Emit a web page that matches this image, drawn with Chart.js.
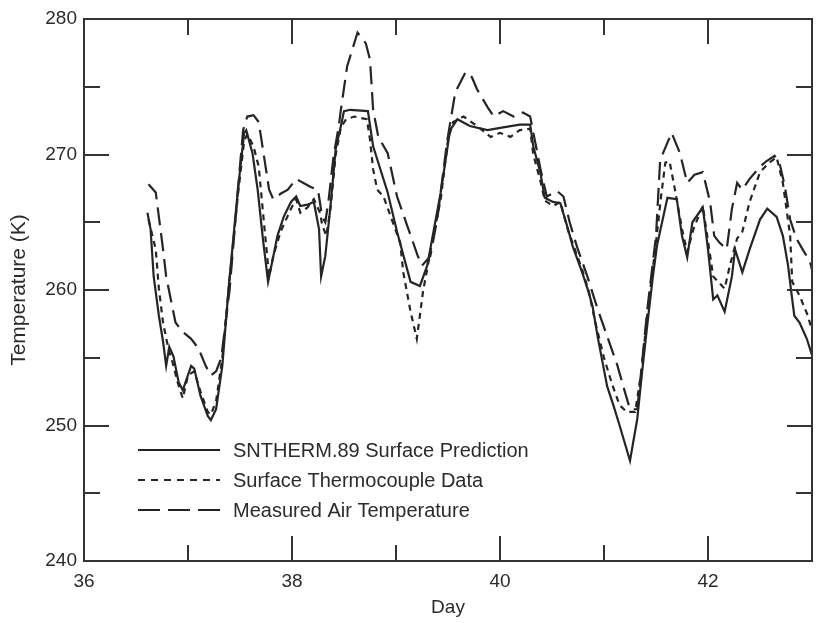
<!DOCTYPE html>
<html>
<head>
<meta charset="utf-8">
<script src="https://cdn.jsdelivr.net/npm/chart.js@4.4.1/dist/chart.umd.min.js"></script>
<style>
  html, body { margin: 0; padding: 0; background: #ffffff; }
  canvas { display: block; }
</style>
</head>
<body>
<canvas id="c" width="818" height="623"></canvas>
<script>
// ---- Tick values ----
const dayTicks = [36, 38, 40, 42];
const dayMinorTicks = [37, 39, 41];
const tempTicks = [240, 250, 260, 270, 280];
const tempMinorTicks = [245, 255, 265, 275];

// ---- Series labels ----
const seriesLabels = [
  'SNTHERM.89 Surface Prediction',
  'Surface Thermocouple Data',
  'Measured Air Temperature'
];

// ---- SNTHERM.89 surface prediction ----
const snthermDay = [36.61,36.64,36.67,36.72,36.76,36.79,36.82,36.86,36.91,36.95,37.03,37.06,37.12,37.19,37.22,37.27,37.33,37.39,37.48,37.54,37.56,37.62,37.67,37.72,37.77,37.81,37.86,37.92,37.99,38.04,38.08,38.15,38.21,38.26,38.28,38.32,38.37,38.42,38.47,38.50,38.56,38.73,38.78,38.92,39.01,39.14,39.23,39.30,39.43,39.52,39.59,39.71,39.88,40.03,40.19,40.29,40.32,40.39,40.43,40.51,40.58,40.65,40.70,40.79,40.85,40.89,40.94,41.03,41.09,41.15,41.25,41.32,41.36,41.41,41.47,41.51,41.57,41.61,41.70,41.75,41.80,41.85,41.95,42.00,42.05,42.09,42.16,42.23,42.26,42.31,42.33,42.40,42.50,42.57,42.66,42.72,42.77,42.80,42.83,42.88,42.95,43.00];
const snthermK   = [265.7,264.5,261.0,258.1,256.2,254.4,255.8,255.1,253.2,252.6,254.4,254.2,252.2,250.7,250.4,251.2,254.4,260.1,267.4,271.6,271.8,270.1,267.4,263.8,260.6,262.1,264.0,265.4,266.5,266.9,266.2,266.3,266.5,264.5,261.0,262.5,266.2,270.4,272.1,273.2,273.3,273.2,270.6,267.2,264.3,260.6,260.3,261.8,267.2,271.8,272.6,272.1,271.8,272.0,272.2,272.2,270.6,268.6,266.8,266.5,266.4,264.6,263.2,261.3,259.9,258.8,256.5,252.9,251.5,250.0,247.4,250.5,253.5,257.0,261.0,263.3,265.4,266.8,266.7,264.0,262.4,265.0,266.1,263.0,259.3,259.6,258.4,261.0,263.0,261.8,261.3,263.0,265.2,266.0,265.4,264.0,261.8,259.9,258.1,257.6,256.4,255.2];

// ---- Surface thermocouple data ----
const thermoDay = [36.62,36.69,36.72,36.76,36.81,36.85,36.90,36.95,37.00,37.06,37.12,37.19,37.22,37.27,37.33,37.39,37.48,37.54,37.57,37.63,37.68,37.73,37.78,37.82,37.89,37.99,38.04,38.08,38.15,38.21,38.27,38.29,38.33,38.37,38.42,38.47,38.52,38.60,38.72,38.75,38.78,38.82,38.88,38.95,39.04,39.07,39.14,39.20,39.26,39.33,39.43,39.50,39.55,39.65,39.78,39.91,40.00,40.10,40.19,40.29,40.32,40.39,40.43,40.51,40.58,40.65,40.72,40.79,40.85,40.92,41.00,41.08,41.15,41.22,41.30,41.36,41.42,41.50,41.55,41.59,41.63,41.68,41.75,41.80,41.86,41.95,42.05,42.16,42.21,42.28,42.33,42.40,42.50,42.59,42.66,42.72,42.79,42.81,42.88,42.96,43.00];
const thermoK   = [265.2,263.0,260.1,257.6,255.7,254.7,253.2,252.0,253.7,254.0,252.5,251.0,250.8,251.8,255.0,260.0,267.0,271.0,271.5,270.6,269.1,265.0,261.0,262.5,264.3,266.0,266.7,265.7,266.1,266.7,265.7,264.8,264.0,266.0,270.0,272.0,272.6,272.8,272.6,271.1,268.9,267.4,266.9,265.4,263.5,261.3,258.4,256.4,259.9,262.8,266.7,271.1,272.4,272.8,272.1,271.3,271.6,271.3,271.8,271.9,270.0,268.0,266.6,266.2,266.5,264.5,263.0,261.5,260.0,257.5,255.0,253.0,251.5,251.0,251.0,254.0,258.5,263.5,267.0,269.4,269.5,267.5,264.5,262.8,264.5,266.2,261.0,260.1,261.8,263.8,264.3,266.5,268.7,269.4,269.8,267.9,264.0,260.6,259.6,258.1,257.0];

// ---- Measured air temperature ----
const airDay = [36.62,36.69,36.72,36.76,36.79,36.84,36.88,36.95,37.03,37.10,37.17,37.22,37.27,37.32,37.40,37.48,37.53,37.57,37.63,37.68,37.73,37.78,37.82,37.89,37.96,38.04,38.11,38.18,38.25,38.29,38.32,38.35,38.40,38.45,38.47,38.53,38.63,38.71,38.75,38.78,38.83,38.92,39.01,39.11,39.21,39.25,39.33,39.40,39.49,39.57,39.67,39.73,39.78,39.88,39.94,40.03,40.13,40.22,40.29,40.39,40.45,40.55,40.61,40.67,40.74,40.84,40.93,41.03,41.13,41.20,41.25,41.32,41.36,41.42,41.50,41.54,41.65,41.73,41.80,41.87,41.95,42.02,42.06,42.11,42.18,42.23,42.28,42.33,42.40,42.50,42.56,42.64,42.69,42.74,42.79,42.85,42.91,42.98,43.00];
const airK   = [267.8,267.2,265.4,263.0,261.0,259.1,257.6,256.9,256.4,255.7,254.4,253.7,254.0,255.0,260.0,267.4,271.8,272.8,272.9,272.4,269.9,267.4,266.7,267.1,267.4,268.2,267.9,267.6,267.4,265.4,265.0,266.5,269.9,272.1,273.3,276.5,279.0,278.2,277.0,273.3,271.3,270.1,266.9,264.7,262.5,261.8,262.5,265.4,270.9,274.6,276.1,275.7,274.8,273.5,272.8,273.2,272.8,273.1,272.8,268.9,266.9,267.3,266.9,265.0,263.2,261.0,258.8,256.6,254.4,252.5,251.2,251.2,254.2,258.8,264.0,269.6,271.6,270.1,267.9,268.5,268.7,266.5,264.0,263.5,263.0,266.0,267.9,267.4,268.2,269.1,269.5,269.9,269.3,267.6,265.2,263.8,263.0,262.1,261.5];

const toPoints = (xs, ys) => xs.map((x, i) => ({ x: x, y: ys[i] }));

const FONT = '"Liberation Sans", Arial, Helvetica, sans-serif';
const INK = '#2b2b2b';
const LINE = '#252525';

const frameTicksPlugin = {
  id: 'frameTicks',
  afterDatasetsDraw(chart) {
    const { ctx, chartArea: a } = chart;
    const xs = chart.scales.x, ys = chart.scales.y;
    const MAJ = 25, MIN = 16;
    ctx.save();
    ctx.strokeStyle = '#333';
    ctx.lineWidth = 2;
    ctx.beginPath();
    const vt = (v, len) => {
      const px = Math.round(xs.getPixelForValue(v));
      ctx.moveTo(px, a.bottom); ctx.lineTo(px, a.bottom - len);
      ctx.moveTo(px, a.top); ctx.lineTo(px, a.top + len);
    };
    const ht = (v, len) => {
      const py = Math.round(ys.getPixelForValue(v));
      ctx.moveTo(a.left, py); ctx.lineTo(a.left + len, py);
      ctx.moveTo(a.right, py); ctx.lineTo(a.right - len, py);
    };
    dayTicks.forEach(v => { if (v > 36) vt(v, MAJ); });
    dayMinorTicks.forEach(v => vt(v, MIN));
    tempTicks.forEach(v => { if (v > 240 && v < 280) ht(v, MAJ); });
    tempMinorTicks.forEach(v => ht(v, MIN));
    ctx.stroke();
    ctx.strokeRect(a.left, a.top, a.right - a.left, a.bottom - a.top);
    ctx.restore();
  }
};

const innerLegendPlugin = {
  id: 'innerLegend',
  afterDatasetsDraw(chart) {
    const { ctx, chartArea: a } = chart;
    const x0 = a.left + 54, x1 = a.left + 136, tx = a.left + 149;
    const rows = [a.bottom - 111, a.bottom - 81, a.bottom - 51];
    ctx.save();
    chart.data.datasets.forEach((ds, i) => {
      const yy = rows[i];
      ctx.beginPath();
      ctx.strokeStyle = ds.borderColor;
      ctx.lineWidth = ds.borderWidth;
      ctx.setLineDash(ds.legendDash || []);
      ctx.moveTo(x0, yy); ctx.lineTo(x1, yy);
      ctx.stroke();
      ctx.setLineDash([]);
      ctx.fillStyle = INK;
      ctx.font = '20px ' + FONT;
      ctx.textBaseline = 'middle';
      ctx.textAlign = 'left';
      ctx.fillText(ds.label, tx, yy + 1);
    });
    ctx.restore();
  }
};

new Chart(document.getElementById('c'), {
  type: 'line',
  data: {
    datasets: [
      { label: seriesLabels[0], data: toPoints(snthermDay, snthermK), borderColor: LINE, borderWidth: 2.2, borderDash: [], legendDash: [], pointRadius: 0, tension: 0, fill: false },
      { label: seriesLabels[1], data: toPoints(thermoDay, thermoK), borderColor: LINE, borderWidth: 2.2, borderDash: [6, 5], legendDash: [7, 6], pointRadius: 0, tension: 0, fill: false },
      { label: seriesLabels[2], data: toPoints(airDay, airK), borderColor: LINE, borderWidth: 2.2, borderDash: [18, 8], legendDash: [22, 8], pointRadius: 0, tension: 0, fill: false }
    ]
  },
  options: {
    responsive: false,
    animation: false,
    devicePixelRatio: 1,
    layout: { padding: { left: 0, right: 6, top: 19, bottom: 0 } },
    plugins: { legend: { display: false }, tooltip: { enabled: false } },
    scales: {
      x: {
        type: 'linear', min: 36, max: 43,
        afterBuildTicks: s => { s.ticks = dayTicks.map(v => ({ value: v })); },
        afterFit: s => { s.height = 62; },
        grid: { display: false, drawTicks: false },
        border: { display: false },
        ticks: { color: INK, font: { family: FONT, size: 19 }, padding: 9, maxRotation: 0, callback: v => String(v) },
        title: { display: true, text: 'Day', color: INK, font: { family: FONT, size: 19 }, padding: { top: 0, bottom: 4 } }
      },
      y: {
        type: 'linear', min: 240, max: 280,
        afterBuildTicks: s => { s.ticks = tempTicks.map(v => ({ value: v })); },
        afterFit: s => { s.width = 84; },
        grid: { display: false, drawTicks: false },
        border: { display: false },
        ticks: { color: INK, font: { family: FONT, size: 19 }, padding: 7, callback: v => String(v) },
        title: { display: true, text: 'Temperature (K)', color: INK, font: { family: FONT, size: 21 }, padding: { top: 7, bottom: 0 } }
      }
    }
  },
  plugins: [frameTicksPlugin, innerLegendPlugin]
});
</script>
</body>
</html>
